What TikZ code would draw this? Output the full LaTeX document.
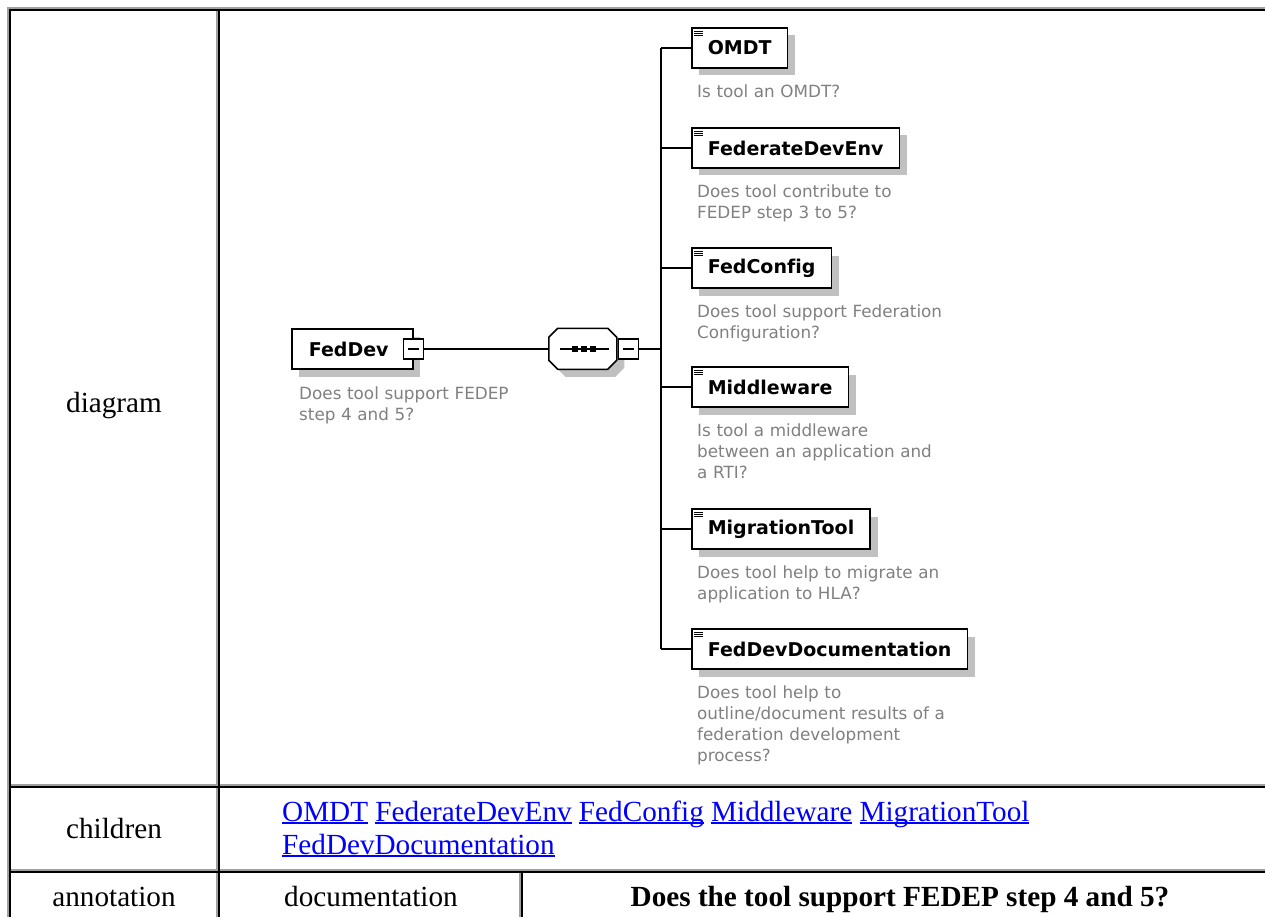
\documentclass[tikz,border=0pt]{standalone}
\usepackage{fontspec}
\setmainfont{Liberation Serif}
\newfontfamily\xsdfont[Ligatures=NoCommon]{DejaVu Sans}
\usetikzlibrary{calc,shadows}

\definecolor{shadowgray}{RGB}{192,192,192}
\definecolor{descgray}{RGB}{128,128,128}
\definecolor{cellgray}{RGB}{160,160,160}
\definecolor{linkblue}{RGB}{0,0,255}

% underlined hyperlink word
\newcommand\ulink[1]{\setbox0\hbox{#1}\rlap{\rule[-3pt]{\wd0}{1.8pt}}\box0\relax}

% one table cell: inset border, dark top/left, light bottom/right
\newcommand\tablecell[4]{%
  \fill[cellgray] (#1,{#4-2}) rectangle (#3,#4);
  \fill[cellgray] ({#3-2},#2) rectangle (#3,#4);
  \fill[black] (#1,#2) rectangle (#3,{#2+2});
  \fill[black] (#1,#2) rectangle ({#1+2},#4);
}

\tikzset{
  elem/.style={draw=black, line width=1.6pt, fill=white, anchor=west,
    minimum height=40pt, inner xsep=16pt, inner ysep=0pt,
    font=\xsdfont\bfseries\fontsize{19}{19}\selectfont,
    drop shadow={shadow xshift=7.5pt, shadow yshift=-7.5pt, fill=shadowgray, opacity=1}},
  docicon/.style={path picture={
    \foreach \dy in {3.5,5.5,7.5}
      \draw[black, line width=0.8pt]
        ($(path picture bounding box.north west)+(2.5pt,{-\dy*1pt})$) -- ++(9pt,0pt);}},
  desc/.style={anchor=base west, text width=300pt, align=left, inner sep=0pt,
    text=descgray, font=\xsdfont\fontsize{16.8}{21}\selectfont},
  conn/.style={line width=1.6pt, black},
  minusbtn/.style={draw=black, line width=1.3pt, fill=white, minimum size=20pt, inner sep=0pt,
    path picture={\draw[black, line width=1.3pt]
      ($(path picture bounding box.center)+(-5.5pt,0pt)$) -- ($(path picture bounding box.center)+(5.5pt,0pt)$);}},
  celltext/.style={anchor=base, inner sep=0pt, font=\fontsize{29.2}{33}\selectfont},
}

\begin{document}
\begin{tikzpicture}[x=1pt, y=-1pt]
\useasboundingbox (0,0) rectangle (1265,917);
\clip (0,0) rectangle (1265,917);

% ---- table frame ----
\fill[cellgray] (7,7) rectangle (1280,9);
\fill[cellgray] (7,7) rectangle (9,935);
\tablecell{9}{9}{218.3}{786}
\tablecell{218.3}{9}{1280}{786}
\tablecell{9}{786}{218.3}{871}
\tablecell{218.3}{786}{1280}{871}
\tablecell{9}{871}{218.3}{935}
\tablecell{218.3}{871}{520.5}{935}
\tablecell{520.5}{871}{1280}{935}

% ---- table texts ----
\node[celltext] (lbl-diagram) at (114,412) {diagram};
\node[celltext] (lbl-children) at (114,838) {children};
\node[celltext] (lbl-annotation) at (114,906) {annotation};
\node[celltext] (lbl-documentation) at (371,906) {documentation};
\node[celltext, font=\bfseries\fontsize{29.2}{33}\selectfont] (doc-text) at (900,906)
  {Does the tool support FEDEP step 4 and 5?};
\node[celltext, anchor=base west, text=linkblue] (links1) at (282,821)
  {\ulink{OMDT} \ulink{FederateDevEnv} \ulink{FedConfig} \ulink{Middleware} \ulink{MigrationTool}};
\node[celltext, anchor=base west, text=linkblue] (links2) at (282,854)
  {\ulink{FedDevDocumentation}};

% ---- root element ----
\node[elem, text width=87pt, align=left, inner xsep=17pt] (feddev) at (291,349) {FedDev};
\node[minusbtn] (fdbtn) at (feddev.east) {};
\node[desc] (feddev-d) at ($(feddev.south west)+(8,30)$) {Does tool support FEDEP\\step 4 and 5?};

% ---- sequence compositor ----
\node[minimum width=68pt, minimum height=41pt, inner sep=0pt] (seq) at (583,349) {};
\fill[shadowgray] ($(seq.north west)+(7.5,16.5)$) -- ++(9,-9) -- ++(50,0) -- ++(9,9)
  -- ++(0,23) -- ++(-9,9) -- ++(-50,0) -- ++(-9,-9) -- cycle;
\draw[line width=1.6pt, fill=white] ($(seq.north west)+(0,9)$) -- ++(9,-9) -- ++(50,0) -- ++(9,9)
  -- ++(0,23) -- ++(-9,9) -- ++(-50,0) -- ++(-9,-9) -- cycle;
\draw[conn] ($(seq.west)+(11,0)$) -- ($(seq.east)+(-8,0)$);
\foreach \dx in {-8,1,10}
  \fill ($(seq.center)+(\dx,0)$) +(-3.2,-3.2) rectangle +(3.2,3.2);
\node[minusbtn] (seqbtn) at ($(seq.east)+(11,0)$) {};
\coordinate (trunk) at (661,349);

% ---- child elements ----
\node[elem, docicon] (omdt) at (691,48) {OMDT};
\node[elem, docicon] (fde) at (691,148) {FederateDevEnv};
\node[elem, docicon] (fconf) at (691,268) {FedConfig};
\node[elem, docicon] (mw) at (691,387) {Middleware};
\node[elem, docicon] (mig) at (691,529) {MigrationTool};
\node[elem, docicon] (fdd) at (691,649) {FedDevDocumentation};

\node[desc] (omdt-d) at ($(omdt.south west)+(6,29)$) {Is tool an OMDT?};
\node[desc] (fde-d) at ($(fde.south west)+(6,29)$) {Does tool contribute to\\FEDEP step 3 to 5?};
\node[desc] (fconf-d) at ($(fconf.south west)+(6,29)$) {Does tool support Federation\\Configuration?};
\node[desc] (mw-d) at ($(mw.south west)+(6,29)$) {Is tool a middleware\\between an application and\\a RTI?};
\node[desc] (mig-d) at ($(mig.south west)+(6,29)$) {Does tool help to migrate an\\application to HLA?};
\node[desc] (fdd-d) at ($(fdd.south west)+(6,29)$) {Does tool help to\\outline/document results of a\\federation development\\process?};

% ---- connectors ----
\draw[conn] (fdbtn.east) -- (seq.west);
\draw[conn] (seqbtn.east) -- (trunk);
\draw[conn] (omdt.west -| trunk) -- (fdd.west -| trunk);
\foreach \e in {omdt,fde,fconf,mw,mig,fdd}
  \draw[conn] (\e.west -| trunk) -- (\e.west);
\end{tikzpicture}
\end{document}
